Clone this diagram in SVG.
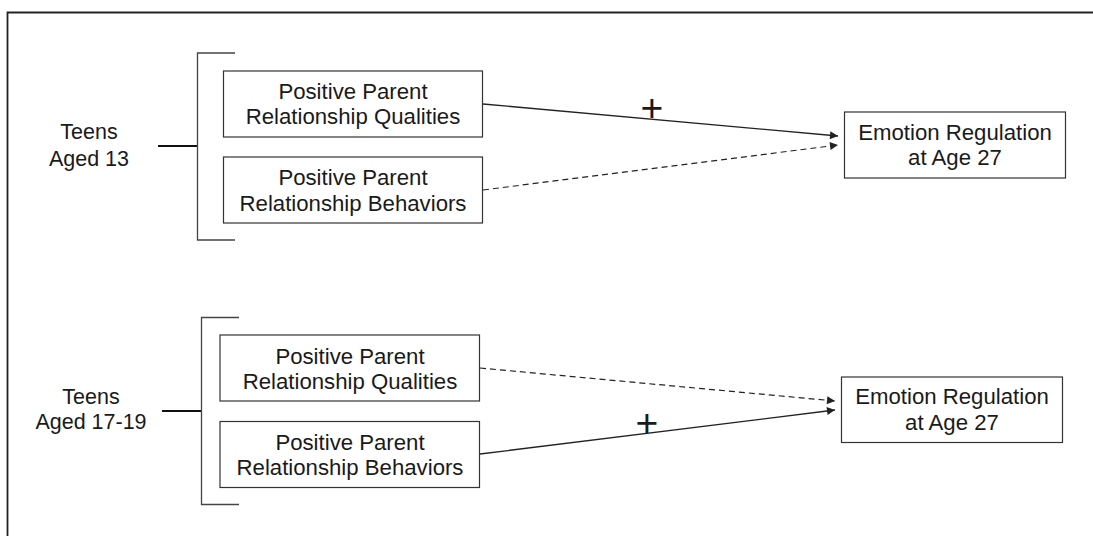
<svg xmlns="http://www.w3.org/2000/svg" width="1093" height="536" viewBox="0 0 1093 536">
<defs>
<style>
.box{fill:#fff;stroke:#333;stroke-width:1.2}
.t{font-family:"Liberation Sans",Arial,sans-serif;font-size:22.2px;fill:#1a1a1a;text-anchor:middle}
.g{font-family:"Liberation Sans",Arial,sans-serif;font-size:21.5px;fill:#1a1a1a;text-anchor:middle}
.plus{font-family:"Liberation Sans",Arial,sans-serif;font-size:39px;fill:#1a1a1a;text-anchor:middle}
.br{fill:none;stroke:#444;stroke-width:1.3}
.stem{fill:none;stroke:#111;stroke-width:1.8}
.solid{fill:none;stroke:#222;stroke-width:1.3}
.dash{fill:none;stroke:#222;stroke-width:1.2;stroke-dasharray:6,4}
</style>
<marker id="ah" viewBox="0 0 10 10" refX="10" refY="5" markerWidth="10" markerHeight="8" markerUnits="userSpaceOnUse" orient="auto">
<path d="M0,0 L10,5 L0,10 z" fill="#222"/>
</marker>
</defs>
<rect width="1093" height="536" fill="#fff"/>
<path d="M7.5,536 V12.5 H1093" fill="none" stroke="#222" stroke-width="1.8"/>

<g id="group-13">
<text class="g" x="89" y="139">Teens</text>
<text class="g" x="89" y="166">Aged 13</text>
<line class="stem" x1="158" y1="146" x2="198" y2="146"/>
<path class="br" d="M235,53 H197.5 V240 H235"/>
</g>
<g id="q13">
<rect class="box" x="223.5" y="71" width="259" height="66"/>
<text class="t" x="353" y="99">Positive Parent</text>
<text class="t" x="353" y="124">Relationship Qualities</text>
</g>
<g id="b13">
<rect class="box" x="223.5" y="157" width="259" height="66"/>
<text class="t" x="353" y="185">Positive Parent</text>
<text class="t" x="353" y="210.5">Relationship Behaviors</text>
</g>
<g id="er1">
<rect class="box" x="844.5" y="112" width="221" height="66"/>
<text class="t" x="955" y="140">Emotion Regulation</text>
<text class="t" x="955" y="165">at Age 27</text>
</g>

<g id="group-17">
<text class="g" x="91" y="404">Teens</text>
<text class="g" x="91" y="429">Aged 17-19</text>
<line class="stem" x1="162" y1="411" x2="202" y2="411"/>
<path class="br" d="M239,317.5 H201.5 V504.5 H239"/>
</g>
<g id="q17">
<rect class="box" x="220" y="335" width="259.5" height="66"/>
<text class="t" x="350" y="364">Positive Parent</text>
<text class="t" x="350" y="389">Relationship Qualities</text>
</g>
<g id="b17">
<rect class="box" x="220" y="421.5" width="259.5" height="66"/>
<text class="t" x="350" y="450">Positive Parent</text>
<text class="t" x="350" y="475">Relationship Behaviors</text>
</g>
<g id="er2">
<rect class="box" x="841.5" y="377" width="221" height="65.5"/>
<text class="t" x="952" y="404">Emotion Regulation</text>
<text class="t" x="952" y="430">at Age 27</text>
</g>

<g id="connectors">
<line class="solid" x1="483" y1="104" x2="838" y2="136" marker-end="url(#ah)"/>
<line class="dash" x1="483" y1="190" x2="838" y2="145" marker-end="url(#ah)"/>
<line class="dash" x1="480" y1="368" x2="835" y2="401" marker-end="url(#ah)"/>
<line class="solid" x1="480" y1="454" x2="835" y2="410" marker-end="url(#ah)"/>
<text class="plus" x="652" y="121">+</text>
<text class="plus" x="647" y="435.5">+</text>
</g>
</svg>
